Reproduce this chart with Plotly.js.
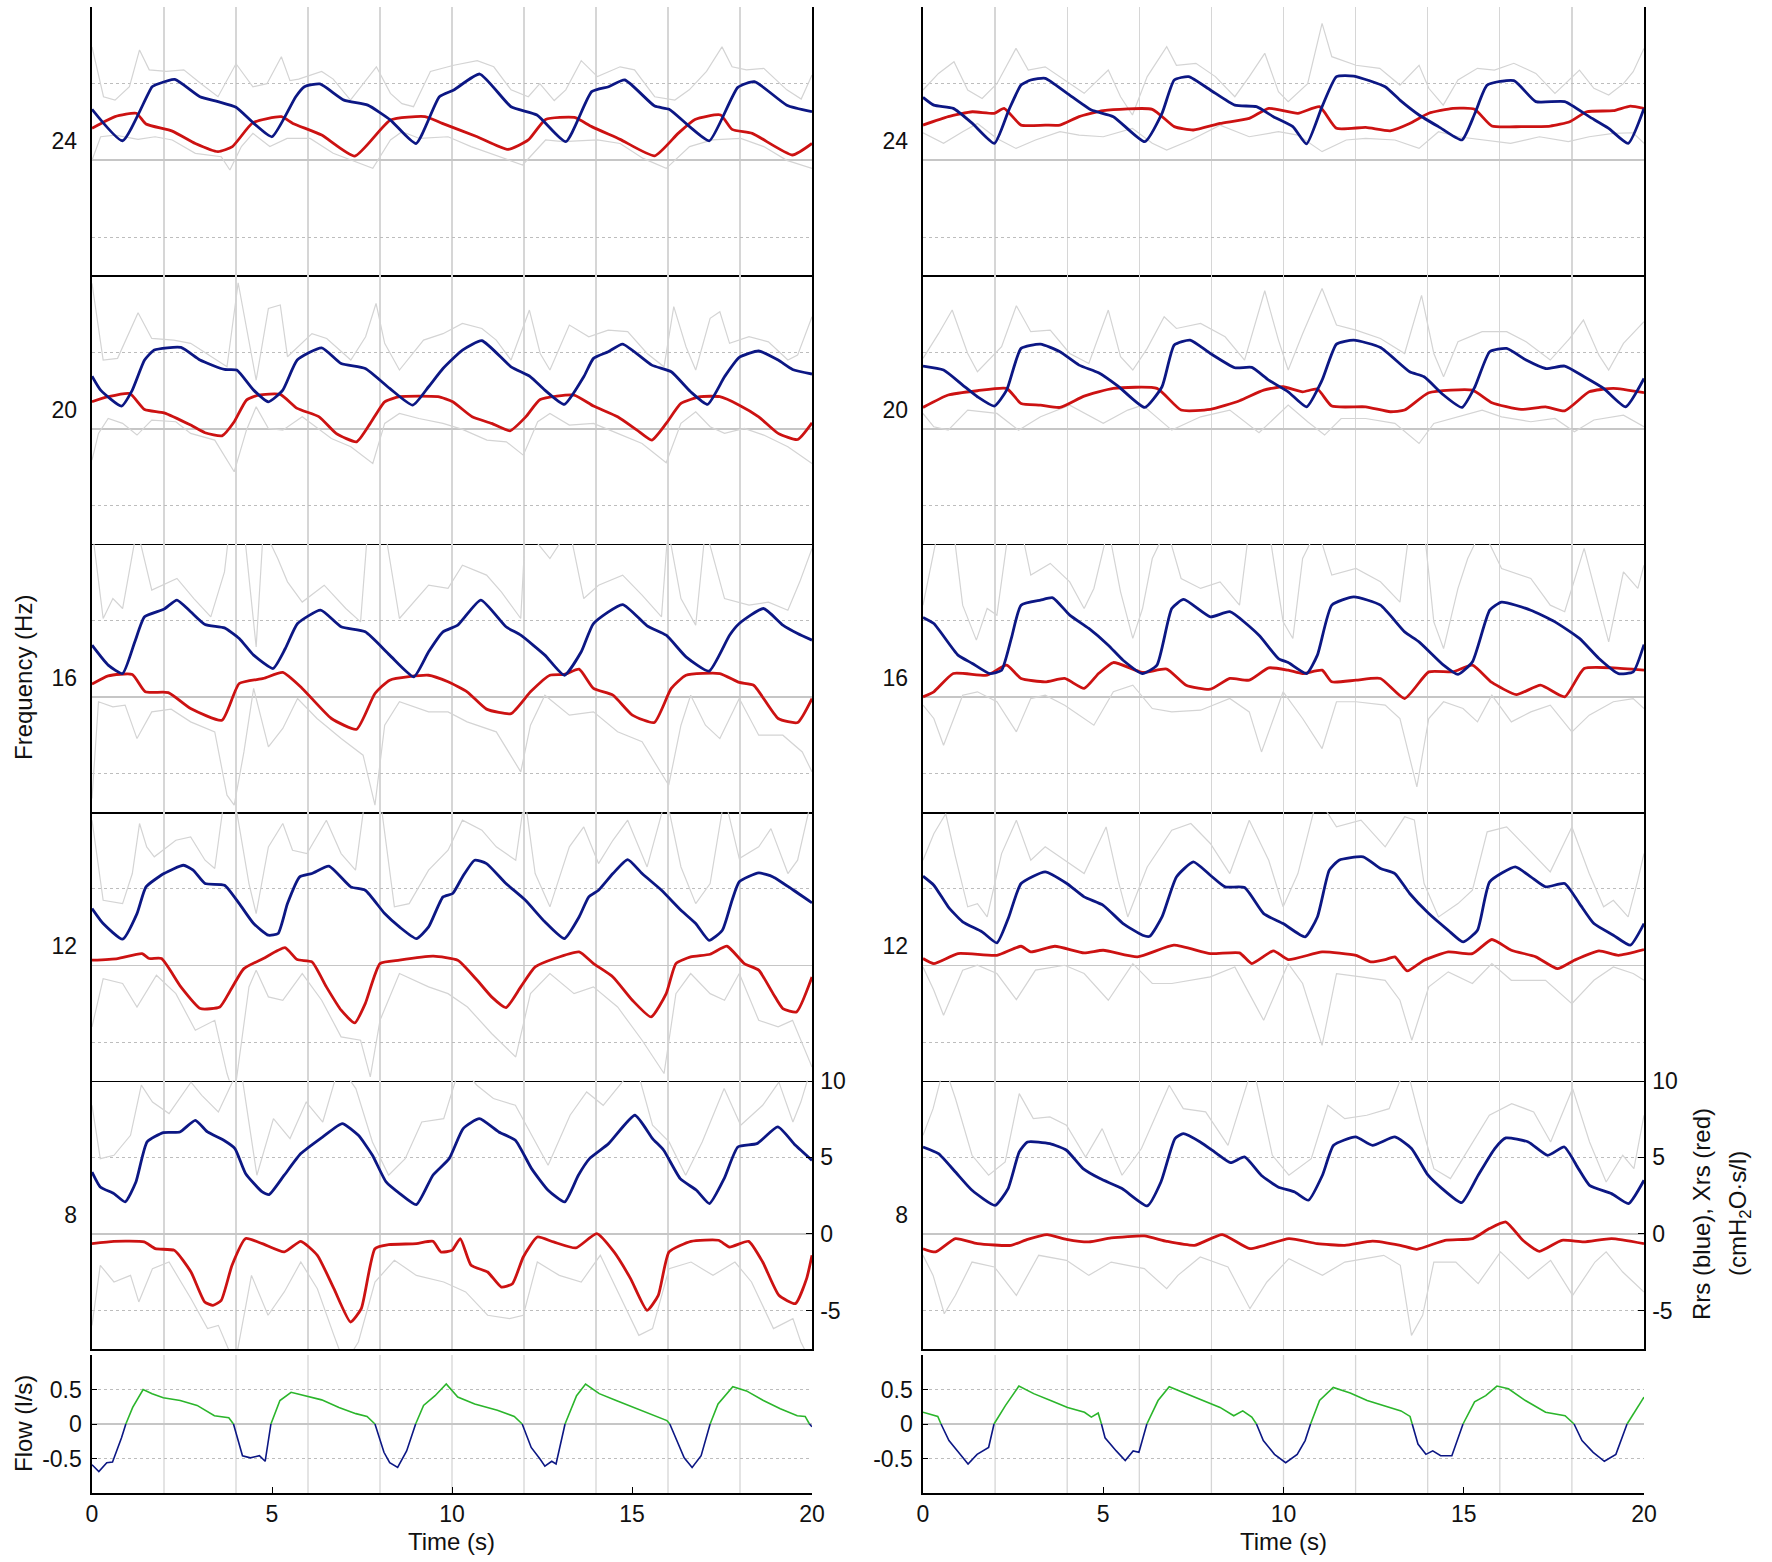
<!DOCTYPE html>
<html>
<head>
<meta charset="utf-8">
<script src="https://cdn.plot.ly/plotly-3.0.1.min.js"></script>
<style>html,body{margin:0;padding:0;background:#fff;}#chart{width:1772px;height:1562px;}</style>
</head>
<body>
<div id="chart"></div>
<script>
// ---------------- DATA ([time s, value]) ----------------
const freqTicks = [8, 12, 16, 20, 24];
const freqTickText = ['8', '12', '16', '20', '24'];
const timeTicks = [0, 5, 10, 15, 20];
const timeTickText = ['0', '5', '10', '15', '20'];
const gridTimes = [2, 4, 6, 8, 10, 12, 14, 16, 18];
const valueTicks = [-5, 0, 5, 10];
const valueTickText = ['-5', '0', '5', '10'];
const dotLevels = [-5, 5];
const flowTicks = [-0.5, 0, 0.5];
const flowTickText = ['-0.5', '0', '0.5'];

// Left column, 24 Hz
const L24_Rrs = [[0,3.33],[0.85,1.28],[1.67,4.8],[1.83,4.98],[2.3,5.28],[3.0,4.15],[3.5,3.83],[4.0,3.46],[4.5,2.4],[5.0,1.54],[5.66,4.15],[5.9,4.8],[6.33,4.98],[7.0,3.93],[7.66,3.6],[8.29,2.63],[9.0,1.1],[9.65,4.15],[10.05,4.59],[10.77,5.63],[11.64,3.5],[12.36,2.96],[13.16,1.22],[13.88,4.48],[14.35,4.8],[14.8,5.24],[15.63,3.54],[16.03,3.33],[16.6,2.2],[17.15,1.28],[17.94,4.76],[18.4,5.13],[19.3,3.6],[20,3.17]];
const L24_Xrs = [[0,2.09],[0.64,2.85],[1.23,3.07],[1.5,2.37],[2.23,1.91],[2.87,1.1],[3.5,0.57],[3.9,0.9],[4.47,2.46],[5.26,2.85],[5.58,2.41],[6.38,1.65],[7.3,0.28],[8.29,2.63],[9.25,2.85],[9.73,2.41],[10.7,1.54],[11.56,0.72],[12.12,1.33],[12.6,2.67],[13.4,2.8],[13.88,2.2],[14.67,1.37],[15.63,0.3],[16.28,1.76],[16.75,2.67],[17.46,2.96],[17.78,2.02],[18.34,1.76],[19.46,0.35],[20,1.1]];
const L24_Up = [[0,7.4],[0.32,4.15],[0.64,3.93],[1.04,4.8],[1.32,7.2],[1.59,5.9],[2.07,5.8],[2.55,5.9],[3.03,5.0],[3.5,4.15],[4.0,6.3],[4.47,4.8],[4.86,5.0],[5.26,6.76],[5.5,5.2],[5.74,5.3],[6.38,5.8],[6.7,5.3],[7.18,3.93],[7.9,6.1],[8.29,4.37],[8.61,3.7],[8.93,3.5],[9.4,5.8],[10.05,6.2],[10.7,6.5],[11.16,6.1],[11.64,4.6],[12.12,4.15],[12.44,5.0],[12.84,3.9],[13.16,4.6],[13.59,6.5],[14.04,5.46],[14.67,6.1],[15.07,5.9],[15.63,4.15],[16.19,3.93],[16.59,4.6],[17.07,5.8],[17.5,7.4],[17.78,6.1],[18.18,5.9],[18.66,6.0],[19.3,4.6],[19.7,4.0],[20,5.56]];
const L24_Lo = [[0,0.0],[0.24,1.54],[0.64,1.65],[1.28,1.37],[1.75,1.54],[2.23,1.33],[2.87,0.46],[3.59,0.24],[3.83,-0.63],[4.15,0.9],[4.47,1.76],[4.94,0.9],[5.42,1.43],[6.06,1.43],[6.7,0.46],[7.34,-0.1],[7.8,-0.52],[8.29,1.33],[8.61,1.87],[9.1,1.43],[9.89,1.54],[10.53,0.9],[11.32,0.24],[11.96,-0.3],[12.6,1.33],[13.08,1.22],[14.04,1.33],[14.67,1.1],[15.31,0.13],[15.95,-0.52],[16.6,0.9],[17.23,1.33],[18.02,1.43],[18.66,0.9],[19.3,0.0],[20,-0.52]];

// Right column, 24 Hz
const R24_Rrs = [[0,4.11],[0.3,3.6],[0.84,3.39],[1.37,2.41],[1.98,1.11],[2.38,3.28],[2.72,4.91],[2.99,5.24],[3.39,5.35],[4.0,4.37],[4.67,3.28],[5.28,2.85],[6.15,1.22],[6.63,3.07],[6.97,5.24],[7.37,5.46],[7.97,4.59],[8.65,3.6],[9.25,3.5],[9.72,2.85],[10.26,2.2],[10.64,1.07],[11.07,3.5],[11.47,5.46],[11.95,5.5],[12.82,4.8],[13.23,3.93],[13.76,2.96],[14.3,2.2],[14.95,1.33],[15.31,3.07],[15.65,4.91],[16.39,5.2],[17.0,3.83],[17.8,3.83],[18.48,2.85],[19.02,2.09],[19.56,1.11],[20,3.39]];
const R24_Xrs = [[0,2.3],[0.7,2.85],[1.37,3.17],[1.98,3.07],[2.25,3.39],[2.72,2.3],[3.39,2.3],[3.8,2.3],[4.33,2.85],[5.0,3.24],[6.36,3.33],[6.97,2.2],[7.5,1.98],[8.24,2.41],[9.05,2.74],[9.59,3.39],[10.4,3.07],[11.0,3.5],[11.47,2.09],[12.28,2.15],[12.96,1.93],[13.5,2.41],[14.03,3.07],[14.7,3.39],[15.3,3.33],[15.78,2.24],[16.59,2.2],[17.4,2.24],[17.94,2.52],[18.41,3.17],[19.15,3.24],[19.62,3.54],[20,3.39]];
const R24_Up = [[0,4.59],[0.43,5.67],[0.86,6.43],[1.24,4.59],[1.64,4.04],[2.05,5.0],[2.58,7.3],[2.92,5.89],[3.39,6.1],[3.93,5.24],[4.47,4.37],[5.14,5.89],[5.48,4.15],[5.81,2.96],[6.22,5.46],[6.76,7.41],[7.03,6.2],[7.57,6.33],[8.11,5.46],[8.65,4.15],[9.05,5.46],[9.48,6.98],[9.86,4.48],[10.13,3.83],[10.67,5.0],[11.07,8.93],[11.34,6.76],[12.01,6.2],[12.67,6.0],[13.23,4.91],[13.76,6.2],[14.03,4.7],[14.43,3.6],[14.84,5.24],[15.38,6.0],[15.85,5.89],[16.39,6.33],[17.0,5.67],[17.53,4.37],[18.21,5.89],[18.61,4.7],[19.02,4.26],[19.43,5.0],[19.7,5.78],[20,7.3]];
const R24_Lo = [[0,1.8],[0.57,1.11],[1.1,1.87],[1.51,2.41],[2.05,1.43],[2.58,0.78],[3.12,1.33],[3.8,1.87],[4.33,1.65],[5.0,1.54],[5.81,2.09],[6.36,1.11],[6.76,0.67],[7.43,1.33],[8.24,2.3],[9.05,1.54],[9.86,1.87],[10.4,1.65],[11.07,0.57],[11.74,1.33],[12.28,1.43],[13.09,1.33],[13.76,0.78],[14.3,1.87],[14.84,1.54],[15.5,1.33],[16.3,1.11],[17.1,1.54],[17.9,1.22],[18.48,1.54],[19.15,1.76],[19.7,1.8],[20,1.11]];

// Left column, 20 Hz
const L20_Rrs = [[0,3.43],[0.24,2.52],[0.82,1.48],[1.12,2.52],[1.46,4.48],[1.73,5.13],[2.47,5.3],[3.0,4.48],[3.68,3.87],[4.02,3.83],[4.49,2.52],[4.9,1.76],[5.3,2.52],[5.7,4.48],[6.38,5.28],[6.92,4.26],[7.59,3.93],[8.27,2.63],[8.91,1.54],[9.35,2.74],[9.75,3.93],[10.29,5.13],[10.83,5.74],[11.64,4.04],[12.18,3.39],[12.58,2.52],[13.12,1.59],[13.66,3.39],[13.93,4.59],[14.34,5.02],[14.74,5.52],[15.55,4.15],[16.09,3.72],[16.63,2.41],[17.1,1.59],[17.57,3.39],[17.98,4.65],[18.52,5.07],[19.06,4.48],[19.46,3.87],[20,3.57]];
const L20_Xrs = [[0,1.76],[0.45,2.09],[1.05,2.3],[1.46,1.26],[2.0,1.04],[2.74,0.24],[3.14,-0.26],[3.61,-0.46],[3.95,0.46],[4.29,1.87],[4.63,2.2],[5.23,2.24],[5.7,1.33],[6.31,0.78],[6.78,-0.3],[7.35,-0.85],[7.73,0.35],[8.13,1.76],[8.54,2.09],[9.61,2.09],[10.02,1.76],[10.56,0.78],[11.1,0.35],[11.61,-0.13],[12.05,0.78],[12.45,1.91],[13.39,2.2],[13.93,1.48],[14.6,0.78],[15.14,-0.09],[15.55,-0.74],[15.95,0.35],[16.36,1.65],[16.9,2.09],[17.44,2.09],[17.98,1.54],[18.52,0.78],[19.06,-0.3],[19.6,-0.7],[20,0.39]];
const L20_Up = [[0,9.48],[0.31,4.48],[0.71,4.59],[0.98,6.0],[1.28,7.57],[1.66,5.89],[2.27,5.78],[2.74,5.57],[3.41,4.59],[3.75,4.04],[4.06,9.52],[4.36,5.57],[4.56,3.17],[4.9,7.85],[5.23,8.07],[5.43,4.7],[6.11,6.2],[6.52,5.89],[7.19,4.48],[7.6,6.0],[7.89,8.17],[8.13,5.57],[8.54,3.83],[9.21,5.78],[9.75,6.2],[10.29,6.87],[10.83,6.54],[11.23,5.78],[11.64,4.48],[12.15,7.74],[12.45,4.91],[12.72,3.83],[13.26,6.76],[13.8,6.0],[14.34,6.43],[14.88,6.33],[15.42,4.91],[15.89,4.04],[16.16,7.96],[16.5,5.35],[16.77,3.83],[17.17,7.2],[17.44,7.63],[17.71,5.57],[18.25,6.0],[18.79,5.67],[19.33,4.48],[19.6,4.8],[20,7.3]];
const L20_Lo = [[0,-2.04],[0.18,-0.3],[0.45,0.67],[0.85,0.35],[1.25,-0.41],[1.66,0.57],[2.33,0.46],[2.74,-0.3],[3.41,-0.74],[3.95,-2.8],[4.29,-0.09],[4.56,1.43],[4.9,0.02],[5.3,-0.09],[5.84,0.78],[6.65,-0.63],[7.19,-1.17],[7.8,-2.26],[8.13,0.35],[8.54,1.0],[9.08,0.67],[9.75,0.35],[10.29,-0.04],[10.97,-0.74],[11.51,-0.85],[11.98,-1.72],[12.38,0.46],[12.72,1.0],[13.26,0.24],[13.93,0.35],[14.6,-0.3],[15.28,-0.96],[15.95,-2.22],[16.36,0.35],[16.77,1.11],[17.17,0.13],[17.57,-0.3],[18.12,0.02],[18.66,-0.41],[19.33,-1.17],[20,-2.26]];

// Right column, 20 Hz
const R20_Rrs = [[0,4.09],[0.57,3.83],[1.1,2.85],[1.51,2.09],[1.98,1.48],[2.32,2.52],[2.72,5.24],[3.26,5.52],[3.8,5.02],[4.33,4.15],[4.87,3.65],[5.41,2.78],[6.15,1.39],[6.63,2.74],[6.97,5.46],[7.41,5.78],[7.97,4.91],[8.65,3.98],[9.12,4.0],[9.59,3.17],[10.13,2.41],[10.64,1.43],[11.07,3.17],[11.47,5.52],[11.95,5.78],[12.69,5.3],[13.5,3.72],[13.9,3.39],[14.44,2.2],[14.95,1.39],[15.31,2.74],[15.72,5.02],[16.19,5.24],[16.73,4.48],[17.27,3.93],[17.8,4.09],[18.34,3.39],[18.88,2.63],[19.49,1.43],[20,3.28]];
const R20_Xrs = [[0,1.39],[0.7,2.2],[1.51,2.48],[2.32,2.63],[2.72,1.65],[3.26,1.54],[3.8,1.39],[4.47,2.13],[5.28,2.63],[6.49,2.63],[7.16,1.22],[7.97,1.26],[8.78,1.83],[9.45,2.52],[9.99,2.74],[10.53,2.41],[10.94,2.59],[11.34,1.48],[12.28,1.43],[12.96,1.11],[13.36,1.22],[14.03,2.35],[15.24,2.52],[15.78,1.7],[16.59,1.26],[17.27,1.43],[17.8,1.17],[18.48,2.41],[19.15,2.63],[20,2.35]];
const R20_Up = [[0,4.59],[0.43,6.2],[0.81,7.74],[1.24,4.91],[1.51,3.72],[1.91,4.7],[2.18,5.35],[2.59,8.02],[2.99,6.33],[3.53,6.43],[4.07,4.91],[4.6,4.26],[5.14,7.74],[5.48,4.7],[5.82,3.83],[6.22,5.24],[6.69,7.3],[7.03,6.54],[7.7,6.87],[8.38,6.0],[8.92,4.48],[9.48,9.0],[9.86,5.78],[10.13,3.83],[10.53,6.2],[11.07,9.15],[11.47,6.76],[12.01,6.43],[12.69,5.89],[13.36,4.91],[13.83,8.7],[14.17,4.91],[14.44,3.39],[14.84,5.67],[15.51,6.33],[16.19,6.33],[16.73,5.67],[17.4,4.48],[17.94,5.89],[18.32,7.09],[18.75,4.8],[19.02,3.83],[19.43,5.57],[20,6.98]];
const R20_Lo = [[0,1.0],[0.3,0.13],[0.7,-0.09],[1.24,1.22],[2.05,1.0],[2.65,-0.09],[3.26,0.78],[4.07,1.54],[5.0,0.35],[5.68,1.22],[6.09,1.54],[6.9,-0.09],[7.7,0.78],[8.51,1.22],[9.32,-0.26],[10.13,1.54],[10.67,0.46],[11.14,-0.41],[11.6,0.67],[12.28,0.67],[13.09,0.35],[13.76,-0.96],[14.17,0.35],[14.84,0.78],[15.51,1.22],[16.05,0.78],[16.86,0.46],[17.53,0.67],[18.07,-0.2],[18.61,0.57],[19.43,0.89],[20,0.13]];

// Left column, 16 Hz
const L16_Rrs = [[0,3.39],[0.45,2.09],[0.85,1.54],[1.19,3.61],[1.46,5.24],[2.0,5.74],[2.36,6.33],[2.74,5.57],[3.14,4.74],[3.68,4.52],[4.09,3.83],[4.49,2.74],[5.03,1.87],[5.37,3.17],[5.71,4.8],[6.35,5.67],[6.92,4.59],[7.59,4.26],[8.27,2.74],[8.94,1.33],[9.35,2.96],[9.75,4.26],[10.16,4.7],[10.8,6.33],[11.5,4.59],[11.91,4.04],[12.58,2.74],[13.12,1.43],[13.59,2.96],[13.93,4.8],[14.74,6.04],[15.42,4.65],[15.95,4.04],[16.5,2.63],[17.14,1.7],[17.71,4.04],[17.98,4.8],[18.65,5.78],[19.19,4.7],[19.6,4.15],[20,3.72]];
const L16_Xrs = [[0,0.85],[0.45,1.39],[1.12,1.48],[1.48,0.35],[2.12,0.3],[2.74,-0.74],[3.61,-1.5],[4.09,0.89],[4.76,1.22],[5.3,1.61],[5.84,0.57],[6.65,-1.39],[7.35,-2.09],[7.86,0.24],[8.27,1.11],[9.35,1.43],[9.89,1.0],[10.42,0.35],[10.96,-0.78],[11.64,-1.07],[12.18,0.35],[12.72,1.43],[13.12,1.48],[13.53,1.83],[13.93,0.57],[14.47,0.13],[15.01,-1.17],[15.62,-1.65],[16.09,0.57],[16.5,1.43],[17.44,1.54],[17.98,0.96],[18.38,0.78],[19.06,-1.39],[19.6,-1.65],[20,-0.09]];
const L16_Up = [[0,11],[0.31,5.13],[0.58,6.43],[0.85,5.78],[1.25,11],[1.46,9.0],[1.66,6.98],[2.36,7.74],[2.83,6.43],[3.3,5.24],[3.68,8.17],[3.82,11],[4.22,11],[4.56,3.28],[4.76,11],[5.16,9.04],[5.43,7.52],[5.84,6.2],[6.45,7.3],[7.05,5.78],[7.46,4.91],[7.66,11],[8.13,11],[8.54,5.13],[9.35,7.3],[9.89,7.09],[10.29,8.6],[10.96,7.96],[11.37,6.87],[11.91,5.13],[12.04,11],[12.72,9.04],[13.26,11],[13.66,6.43],[14.07,7.3],[14.74,7.96],[15.28,6.65],[15.82,5.24],[16.0,11],[16.36,6.43],[16.77,4.7],[17.04,11],[17.57,6.43],[18.25,6.0],[18.79,6.2],[19.33,5.67],[19.66,7.52],[20,9.7]];
const L16_Lo = [[0,-6.6],[0.18,-0.3],[0.58,-0.63],[0.92,-0.52],[1.25,-2.7],[1.66,-0.96],[2.2,-0.78],[2.74,-1.61],[3.41,-2.26],[3.75,-6.39],[3.95,-7.04],[4.22,-3.57],[4.49,0.57],[4.9,-3.24],[5.3,-2.04],[5.71,-0.09],[6.25,-1.39],[6.92,-2.7],[7.53,-3.78],[7.86,-7.04],[8.13,-1.83],[8.54,-0.3],[9.35,-0.96],[9.89,-0.96],[10.42,-1.61],[11.23,-2.26],[11.91,-4.87],[12.18,-1.83],[12.58,0.13],[13.26,-1.17],[13.93,-0.96],[14.6,-2.26],[15.28,-2.91],[16.02,-5.74],[16.36,-1.83],[16.63,0.13],[17.04,-1.83],[17.44,-2.7],[17.98,-0.09],[18.52,-2.48],[19.19,-2.48],[19.73,-3.57],[20,-4.87]];

// Right column, 16 Hz
const R16_Rrs = [[0,5.2],[0.3,4.8],[0.97,2.74],[1.37,2.2],[1.85,1.54],[2.18,1.76],[2.45,3.83],[2.72,6.0],[3.26,6.33],[3.6,6.48],[4.07,5.35],[4.6,4.48],[5.14,3.39],[5.55,2.41],[6.09,1.54],[6.49,2.09],[6.9,5.78],[7.23,6.37],[7.97,5.24],[8.51,5.57],[9.32,4.04],[9.86,2.52],[10.13,2.26],[10.64,1.54],[10.94,2.74],[11.34,6.0],[11.95,6.54],[12.69,6.0],[13.36,4.26],[13.76,3.61],[14.44,2.09],[14.84,1.48],[15.24,2.3],[15.72,5.67],[16.05,6.2],[16.86,5.67],[17.53,4.91],[18.21,3.83],[18.75,2.52],[19.29,1.54],[19.7,1.65],[20,3.43]];
const R16_Xrs = [[0,0.02],[0.3,0.35],[0.84,1.54],[1.78,1.43],[2.32,2.09],[2.72,1.22],[3.39,1.0],[3.93,1.22],[4.47,0.57],[4.87,1.54],[5.28,2.26],[6.09,1.61],[6.76,1.83],[7.3,0.78],[7.97,0.52],[8.51,1.22],[9.05,1.11],[9.59,1.91],[10.13,1.76],[10.53,1.54],[11.07,1.76],[11.34,1.0],[12.01,1.11],[12.69,1.22],[13.36,-0.09],[14.03,1.65],[14.7,1.65],[15.24,2.09],[15.78,0.96],[16.46,0.17],[17.13,0.78],[17.8,0.02],[18.34,1.87],[19.15,1.91],[20,1.76]];
const R16_Up = [[0,6.0],[0.43,11],[0.84,11],[1.1,6.0],[1.48,3.72],[1.78,5.78],[2.05,5.35],[2.38,11],[2.72,11],[2.99,7.96],[3.53,8.72],[4.07,7.52],[4.47,5.78],[4.74,7.09],[5.14,11],[5.48,6.87],[5.82,3.83],[6.09,5.78],[6.36,9.04],[6.76,11],[7.16,7.74],[7.7,7.09],[8.24,7.52],[8.78,6.0],[9.05,11],[9.59,11],[9.99,4.91],[10.26,3.83],[10.53,9.04],[10.94,11],[11.34,7.96],[12.01,8.39],[12.69,7.52],[13.23,6.2],[13.5,11],[13.9,11],[14.17,4.91],[14.44,3.17],[14.84,7.09],[15.11,9.04],[15.51,11],[16.05,8.39],[16.86,7.74],[17.4,6.0],[17.8,5.57],[18.34,9.7],[18.75,6.0],[19.02,3.61],[19.43,8.17],[19.83,7.09],[20,8.6]];
const R16_Lo = [[0,-0.52],[0.3,-1.39],[0.57,-3.13],[1.1,0.13],[1.51,0.35],[2.05,-0.3],[2.59,-2.26],[2.99,-0.09],[3.39,0.13],[3.93,-0.52],[4.74,-1.83],[5.28,0.35],[5.82,0.78],[6.36,-0.74],[6.9,-0.96],[7.7,-0.85],[8.51,-0.09],[9.05,-0.96],[9.39,-3.57],[9.99,0.35],[10.53,-1.39],[11.07,-3.35],[11.47,-0.3],[12.01,-0.3],[12.82,-0.52],[13.23,-1.39],[13.7,-5.85],[14.03,-1.39],[14.44,-0.3],[14.98,-0.74],[15.38,-1.61],[15.78,0.13],[16.32,-1.61],[16.86,-0.96],[17.4,-0.52],[18.0,-2.26],[18.48,-1.17],[19.15,-0.3],[19.7,-0.09],[20,-0.74]];

// Left column, 12 Hz
const L12_Rrs = [[0,3.72],[0.31,2.74],[0.85,1.72],[1.25,3.39],[1.5,5.13],[2.0,6.0],[2.54,6.54],[2.81,6.22],[3.14,5.35],[3.68,5.24],[4.09,4.04],[4.49,2.74],[4.9,1.98],[5.17,2.09],[5.43,4.04],[5.77,5.78],[6.11,6.0],[6.58,6.48],[7.19,5.13],[7.59,4.91],[8.13,3.39],[8.54,2.52],[9.01,1.76],[9.35,2.52],[9.75,4.48],[10.02,4.7],[10.29,5.78],[10.63,6.87],[10.96,6.65],[11.5,5.35],[12.04,4.26],[12.58,2.85],[13.12,1.76],[13.53,3.17],[13.8,4.48],[14.07,4.91],[14.47,6.0],[14.88,6.91],[15.28,6.0],[15.82,4.91],[16.36,3.61],[16.77,2.74],[17.14,1.65],[17.51,2.3],[17.78,4.26],[17.98,5.46],[18.52,6.04],[18.92,5.78],[19.46,4.96],[20,4.09]];
const L12_Xrs = [[0,0.35],[0.71,0.46],[1.39,0.78],[1.59,0.46],[1.93,0.46],[2.47,-1.39],[3.01,-2.8],[3.55,-2.7],[3.82,-1.72],[4.22,-0.2],[4.76,0.46],[5.36,1.17],[5.7,0.39],[6.11,0.24],[6.51,-1.39],[6.92,-2.91],[7.3,-3.74],[7.59,-2.48],[8.0,0.13],[8.54,0.35],[9.48,0.61],[10.16,0.35],[10.7,-0.96],[11.1,-2.04],[11.5,-2.74],[11.91,-1.39],[12.31,-0.09],[12.85,0.46],[13.53,0.89],[13.93,0.13],[14.47,-0.74],[15.01,-2.26],[15.53,-3.35],[15.95,-1.83],[16.22,0.13],[16.63,0.57],[17.17,0.74],[17.64,1.26],[18.12,0.13],[18.52,-0.3],[18.92,-1.83],[19.19,-2.8],[19.57,-3.02],[20,-0.74]];
const L12_Up = [[0,9.48],[0.31,4.26],[0.85,4.04],[1.12,6.0],[1.32,9.26],[1.52,7.74],[1.73,7.09],[2.33,8.17],[2.74,8.39],[3.14,6.87],[3.41,6.33],[3.68,11],[3.95,11],[4.36,5.35],[4.56,3.39],[4.9,7.74],[5.3,9.26],[5.57,7.52],[5.97,7.3],[6.51,9.48],[6.92,7.3],[7.32,6.22],[7.59,11],[8.0,11],[8.4,3.83],[8.81,4.04],[9.35,6.22],[9.89,7.52],[10.29,9.48],[10.83,8.83],[11.23,7.74],[11.77,6.87],[12.02,11],[12.31,6.0],[12.72,3.83],[13.26,7.74],[13.66,9.04],[14.07,6.65],[14.47,8.17],[14.88,9.48],[15.42,6.43],[15.95,11],[16.36,6.43],[16.77,4.04],[17.17,5.35],[17.57,11],[17.98,6.98],[18.52,7.74],[18.86,8.93],[19.33,6.0],[19.6,6.87],[20,11]];
const L12_Lo = [[0,-4.0],[0.31,-0.85],[0.85,-1.17],[1.25,-2.7],[1.79,-0.63],[2.33,-1.83],[2.87,-4.22],[3.41,-3.57],[3.75,-7.04],[3.95,-8.5],[4.36,-1.39],[4.56,-0.3],[4.9,-2.04],[5.3,-2.26],[5.84,-0.52],[6.38,-2.26],[6.92,-4.65],[7.46,-4.87],[7.73,-7.26],[8.0,-3.57],[8.54,-0.52],[9.35,-1.39],[9.89,-1.83],[10.43,-2.7],[11.1,-4.43],[11.77,-5.96],[12.18,-1.83],[12.72,-0.52],[13.39,-1.83],[13.93,-1.39],[14.6,-2.7],[15.28,-4.87],[15.89,-7.04],[16.22,-1.83],[16.63,-0.52],[17.17,-1.83],[17.57,-2.26],[17.98,-0.52],[18.52,-3.57],[19.06,-4.0],[19.46,-3.57],[20,-6.61]];

// Right column, 12 Hz
const R12_Rrs = [[0,5.83],[0.3,5.24],[0.7,3.83],[1.1,2.85],[1.64,2.2],[2.05,1.48],[2.38,3.17],[2.72,5.35],[3.39,6.11],[3.99,5.35],[4.47,4.48],[5.0,3.93],[5.55,2.74],[6.09,1.98],[6.29,1.91],[6.63,3.17],[7.03,5.78],[7.5,6.76],[7.97,5.89],[8.38,5.13],[8.92,5.09],[9.45,3.39],[9.99,2.74],[10.6,1.87],[10.94,3.17],[11.27,6.22],[11.54,6.87],[12.21,7.09],[12.69,6.33],[13.09,6.0],[13.5,4.7],[14.03,3.39],[14.57,2.3],[14.98,1.54],[15.38,2.3],[15.72,5.46],[16.43,6.43],[16.86,5.78],[17.27,5.13],[17.8,5.35],[18.21,4.04],[18.61,2.74],[19.15,1.98],[19.62,1.33],[20,2.74]];
const R12_Xrs = [[0,0.46],[0.3,0.13],[0.97,0.78],[2.05,0.67],[2.72,1.26],[2.99,0.89],[3.66,1.26],[4.47,0.83],[5.0,1.0],[5.95,0.57],[6.96,1.33],[7.97,0.78],[8.78,0.83],[9.12,0.13],[9.72,0.96],[10.13,0.39],[11.07,0.89],[12.01,0.67],[12.42,0.24],[12.82,0.39],[13.09,0.57],[13.43,-0.35],[13.9,0.35],[14.57,0.89],[15.24,0.78],[15.78,1.7],[16.32,1.0],[17.0,0.57],[17.6,-0.2],[18.07,0.35],[18.75,0.96],[19.29,0.67],[20,1.04]];
const R12_Up = [[0,6.87],[0.3,8.6],[0.63,9.9],[0.9,7.09],[1.24,3.83],[1.51,4.04],[1.78,3.17],[2.18,7.3],[2.59,9.48],[2.99,6.87],[3.39,7.74],[3.93,6.87],[4.47,6.0],[5.08,9.04],[5.41,5.57],[5.68,3.17],[6.22,6.43],[6.9,8.83],[7.43,9.26],[7.97,7.96],[8.51,6.0],[9.05,9.48],[9.59,6.87],[9.99,3.83],[10.4,6.0],[10.94,11],[11.47,9.04],[12.15,9.48],[12.82,7.74],[13.36,9.7],[13.63,9.5],[13.9,5.35],[14.3,3.17],[14.84,4.04],[15.24,4.91],[15.65,8.72],[16.19,9.04],[16.73,7.74],[17.4,6.11],[18.0,9.04],[18.48,6.0],[18.88,3.83],[19.15,4.26],[19.56,3.17],[19.83,5.57],[20,7.3]];
const R12_Lo = [[0,-0.09],[0.3,-1.61],[0.57,-3.24],[1.1,-0.3],[1.51,0.02],[2.05,-0.52],[2.59,-2.22],[3.12,-0.3],[3.93,0.02],[4.47,-0.52],[5.14,-2.26],[5.82,0.13],[6.36,-1.17],[6.9,-1.17],[7.97,-0.74],[8.65,-0.09],[9.05,-1.83],[9.45,-3.57],[10.13,0.13],[10.53,-1.17],[11.07,-5.2],[11.47,-0.52],[12.15,-0.74],[12.82,-0.96],[13.23,-2.26],[13.56,-4.87],[14.03,-1.39],[14.57,-0.41],[15.24,-1.17],[15.78,0.13],[16.32,-0.96],[17.27,-0.96],[18.0,-2.48],[18.61,-0.96],[19.15,-0.09],[19.7,-0.52],[20,-0.96]];

// Left column, 8 Hz
const L8_Rrs = [[0,4.04],[0.23,3.07],[0.61,2.63],[0.92,2.09],[1.22,3.39],[1.53,6.0],[1.98,6.61],[2.44,6.65],[2.87,7.41],[3.21,6.65],[3.66,6.11],[3.97,5.57],[4.27,3.93],[4.73,2.74],[4.92,2.57],[5.34,3.83],[5.8,5.24],[6.41,6.33],[6.95,7.2],[7.4,6.43],[7.79,5.13],[8.17,3.39],[8.55,2.63],[9.01,1.91],[9.47,3.83],[9.92,4.91],[10.31,6.87],[10.76,7.52],[11.3,6.65],[11.76,6.11],[12.21,4.26],[12.67,2.85],[13.13,2.09],[13.51,3.83],[13.82,4.91],[14.35,5.89],[15.08,7.74],[15.57,6.22],[15.88,5.46],[16.34,3.61],[16.79,2.85],[17.15,1.98],[17.56,3.61],[17.94,5.67],[18.47,5.89],[19.05,6.98],[19.54,5.78],[20,4.8]];
const L8_Xrs = [[0,-0.63],[0.61,-0.48],[1.45,-0.52],[1.76,-0.96],[2.29,-1.07],[2.75,-2.48],[3.13,-4.43],[3.36,-4.65],[3.59,-4.33],[3.89,-2.04],[4.27,-0.3],[4.73,-0.63],[5.34,-1.17],[5.8,-0.48],[6.26,-1.39],[6.72,-3.57],[7.18,-5.74],[7.48,-4.87],[7.86,-0.96],[8.24,-0.7],[9.01,-0.63],[9.47,-0.48],[9.69,-1.17],[10.0,-1.07],[10.23,-0.3],[10.53,-2.04],[10.99,-2.48],[11.37,-3.46],[11.68,-3.24],[11.98,-1.5],[12.37,-0.2],[12.82,-0.52],[13.44,-0.91],[14.02,0.02],[14.5,-1.17],[14.96,-2.91],[15.42,-4.98],[15.73,-4.0],[16.03,-1.17],[16.64,-0.48],[17.4,-0.41],[17.71,-0.85],[18.24,-0.48],[18.63,-1.83],[19.08,-4.0],[19.54,-4.54],[19.85,-2.91],[20,-1.39]];
const L8_Up = [[0,8.39],[0.23,4.91],[0.61,5.13],[1.07,6.43],[1.37,9.7],[1.68,8.6],[2.14,7.85],[2.75,9.9],[3.05,9.04],[3.51,7.96],[4.12,11],[4.58,3.83],[5.04,7.52],[5.5,6.22],[5.95,8.6],[6.41,7.3],[6.87,11],[7.33,9.48],[7.79,6.0],[8.24,3.83],[8.7,4.91],[9.16,7.3],[9.77,7.52],[10.23,11],[10.69,9.7],[11.15,8.83],[11.76,8.39],[12.21,6.43],[12.67,4.48],[13.28,7.74],[13.74,9.26],[14.2,8.39],[14.66,9.7],[15.11,11],[15.57,7.09],[16.03,6.0],[16.49,3.83],[16.95,6.0],[17.56,9.48],[18.02,7.09],[18.63,8.39],[19.08,9.9],[19.47,7.3],[19.69,8.6],[20,11]];
const L8_Lo = [[0,-5.96],[0.23,-2.04],[0.61,-3.13],[1.07,-2.7],[1.3,-4.43],[1.68,-2.26],[2.14,-1.83],[2.75,-4.22],[3.21,-6.17],[3.51,-5.96],[3.97,-8.5],[4.43,-2.7],[4.89,-5.3],[5.34,-3.78],[5.8,-1.83],[6.26,-3.57],[6.72,-6.61],[7.02,-8.5],[7.4,-7.04],[7.86,-3.13],[8.4,-1.72],[9.01,-2.7],[9.77,-3.13],[10.38,-3.78],[10.99,-5.3],[11.6,-5.52],[11.98,-5.3],[12.37,-1.83],[12.98,-2.7],[13.59,-3.13],[14.12,-1.39],[14.66,-4.0],[15.19,-6.61],[15.57,-6.17],[16.03,-2.26],[16.64,-1.83],[17.25,-2.7],[17.86,-1.83],[18.32,-3.13],[18.93,-6.17],[19.47,-5.52],[19.69,-7.04],[20,-8.5]];

// Right column, 8 Hz
const R8_Rrs = [[0,5.67],[0.43,5.24],[0.9,4.04],[1.36,2.85],[2.0,1.87],[2.36,2.96],[2.67,5.35],[2.9,6.0],[3.52,5.89],[3.98,5.46],[4.44,4.26],[4.91,3.61],[5.52,2.96],[6.22,1.83],[6.6,3.39],[6.99,6.22],[7.22,6.54],[7.69,6.0],[8.15,5.24],[8.53,4.65],[8.92,5.02],[9.38,3.83],[9.85,3.07],[10.31,2.74],[10.69,2.2],[11.08,3.83],[11.39,5.78],[12.0,6.33],[12.47,5.78],[13.09,6.33],[13.55,5.57],[14.01,3.83],[14.4,2.96],[14.94,2.04],[15.4,3.83],[15.86,5.57],[16.17,6.26],[16.79,6.0],[17.33,5.13],[17.79,5.67],[18.18,4.26],[18.49,3.17],[19.1,2.63],[19.57,1.98],[20,3.5]];
const R8_Xrs = [[0,-0.96],[0.35,-1.17],[0.9,-0.3],[1.51,-0.63],[2.44,-0.74],[2.9,-0.35],[3.44,-0.04],[3.98,-0.35],[4.6,-0.52],[5.22,-0.26],[6.14,-0.13],[6.76,-0.48],[7.53,-0.74],[8.3,-0.04],[9.07,-0.96],[10.15,-0.3],[10.93,-0.63],[11.7,-0.74],[12.47,-0.46],[13.24,-0.74],[13.7,-1.0],[14.48,-0.41],[15.25,-0.3],[15.71,0.35],[16.17,0.78],[16.64,-0.41],[17.1,-1.13],[17.72,-0.41],[18.33,-0.52],[19.1,-0.3],[20,-0.63]];
const R8_Up = [[0,6.43],[0.28,8.17],[0.59,11],[0.9,8.83],[1.36,5.13],[1.82,3.83],[2.28,4.7],[2.67,9.15],[3.06,7.52],[3.52,7.63],[3.98,7.09],[4.51,5.02],[4.97,6.87],[5.52,3.83],[6.06,5.57],[6.83,9.7],[7.22,8.17],[7.84,7.96],[8.46,5.78],[9.15,11],[9.69,5.13],[10.15,3.83],[10.77,4.91],[11.23,8.39],[11.7,7.52],[12.31,7.74],[12.93,8.17],[13.4,11],[13.78,7.52],[14.17,4.26],[14.63,3.61],[15.25,6.0],[15.71,7.74],[16.33,8.5],[16.94,7.96],[17.41,6.0],[18.02,9.48],[18.49,6.0],[18.95,3.39],[19.41,5.13],[19.72,4.26],[20,7.74]];
const R8_Lo = [[0,-1.39],[0.28,-2.7],[0.59,-5.2],[0.9,-4.0],[1.36,-1.83],[1.98,-2.15],[2.59,-4.0],[3.21,-1.39],[3.98,-1.72],[4.6,-2.7],[5.22,-1.83],[6.14,-2.26],[6.76,-3.57],[7.07,-2.7],[7.69,-1.5],[8.46,-2.15],[9.07,-4.87],[9.54,-3.13],[10.15,-1.61],[11.08,-2.7],[11.7,-1.83],[12.78,-1.39],[13.24,-2.04],[13.55,-6.61],[13.86,-5.3],[14.17,-1.83],[14.78,-1.83],[15.4,-3.24],[16.02,-1.17],[16.79,-2.91],[17.41,-1.72],[18.02,-4.0],[18.64,-1.83],[18.95,-1.17],[19.41,-2.48],[20,-3.78]];

// Flow (l/s)
const L_Flow = [[0,-0.59],[0.19,-0.69],[0.41,-0.56],[0.57,-0.55],[0.82,-0.2],[0.94,0],[1.13,0.24],[1.42,0.5],[1.67,0.44],[1.98,0.38],[2.45,0.34],[2.92,0.27],[3.4,0.12],[3.8,0.09],[3.93,0],[4.18,-0.46],[4.4,-0.49],[4.65,-0.46],[4.81,-0.54],[4.97,0],[5.22,0.34],[5.53,0.46],[5.91,0.41],[6.38,0.35],[6.86,0.24],[7.33,0.15],[7.64,0.11],[7.86,0],[8.11,-0.41],[8.27,-0.56],[8.49,-0.63],[8.74,-0.39],[8.99,0],[9.21,0.27],[9.53,0.41],[9.84,0.58],[10.16,0.39],[10.63,0.29],[11.26,0.2],[11.73,0.11],[11.95,0],[12.2,-0.34],[12.45,-0.51],[12.58,-0.61],[12.77,-0.54],[12.89,-0.58],[13.14,0],[13.46,0.41],[13.71,0.58],[14.09,0.44],[14.56,0.34],[15.03,0.24],[15.5,0.15],[15.97,0.05],[16.05,0],[16.45,-0.49],[16.67,-0.63],[16.92,-0.46],[17.17,0],[17.39,0.29],[17.8,0.54],[18.18,0.48],[18.65,0.34],[19.12,0.22],[19.59,0.12],[19.81,0.11],[19.93,0],[20,-0.04]];
const R_Flow = [[0,0.17],[0.41,0.11],[0.5,0],[0.72,-0.24],[1.03,-0.44],[1.25,-0.58],[1.5,-0.44],[1.82,-0.34],[1.97,0],[2.29,0.27],[2.66,0.55],[3.07,0.44],[3.54,0.34],[4.01,0.24],[4.48,0.17],[4.67,0.1],[4.86,0.16],[4.95,0],[5.05,-0.2],[5.36,-0.39],[5.61,-0.53],[5.83,-0.39],[5.99,-0.41],[6.21,0],[6.52,0.34],[6.83,0.54],[7.3,0.44],[7.77,0.34],[8.24,0.24],[8.62,0.12],[8.87,0.19],[9.12,0.1],[9.25,0],[9.44,-0.24],[9.75,-0.44],[10.06,-0.56],[10.38,-0.44],[10.6,-0.24],[10.75,0],[11.0,0.34],[11.38,0.53],[11.85,0.45],[12.32,0.34],[12.79,0.27],[13.26,0.19],[13.51,0.11],[13.57,0],[13.73,-0.29],[13.95,-0.44],[14.14,-0.39],[14.36,-0.46],[14.67,-0.46],[14.98,0],[15.3,0.32],[15.61,0.41],[15.92,0.55],[16.24,0.51],[16.71,0.34],[17.27,0.17],[17.81,0.12],[18.06,0],[18.28,-0.24],[18.59,-0.41],[18.9,-0.54],[19.22,-0.44],[19.53,0],[20,0.39]];

// ---------------- LAYOUT GEOMETRY (pixels) ----------------
const W = 1772, H = 1562;
const COLS = [[92, 812], [923, 1644]];
const PANEL_TOP = 7, PANEL_H = 268.4;
const FLOW_BOX = [1355, 1493];
const FONT = 'Liberation Sans, Arial, Helvetica, sans-serif';
const C_BLUE = '#0c1784', C_RED = '#cc1212', C_GRAY = '#d4d4d4', C_GREEN = '#2bb52b';
const C_GRID = '#d6d6d6', C_ZERO = '#c6c6c6', C_DOT = '#bdbdbd';

const panels = [
  [[L24_Rrs, L24_Xrs, L24_Up, L24_Lo], [L20_Rrs, L20_Xrs, L20_Up, L20_Lo], [L16_Rrs, L16_Xrs, L16_Up, L16_Lo], [L12_Rrs, L12_Xrs, L12_Up, L12_Lo], [L8_Rrs, L8_Xrs, L8_Up, L8_Lo]],
  [[R24_Rrs, R24_Xrs, R24_Up, R24_Lo], [R20_Rrs, R20_Xrs, R20_Up, R20_Lo], [R16_Rrs, R16_Xrs, R16_Up, R16_Lo], [R12_Rrs, R12_Xrs, R12_Up, R12_Lo], [R8_Rrs, R8_Xrs, R8_Up, R8_Lo]]
];
const flows = [L_Flow, R_Flow];

const xd = px => px / W;
const yd = px => 1 - px / H;
const T = p => p.map(a => a[0]);
const V = p => p.map(a => a[1]);

const traces = [];
const layout = {
  width: W, height: H, autosize: false,
  margin: {l: 0, r: 0, t: 0, b: 0, pad: 0},
  paper_bgcolor: '#ffffff', plot_bgcolor: 'rgba(0,0,0,0)',
  showlegend: false,
  font: {family: FONT, size: 23, color: '#111'},
  shapes: [], annotations: []
};

for (let c = 0; c < 2; c++) {
  const xdom = [xd(COLS[c][0]), xd(COLS[c][1])];
  for (let k = 0; k < 5; k++) {
    const n = c * 6 + k + 1;
    const top = PANEL_TOP + k * PANEL_H, bot = top + PANEL_H;
    const [rrs, xrs, up, lo] = panels[c][k];
    const ax = {xaxis: 'x' + n, yaxis: 'y' + n, mode: 'lines', hoverinfo: 'skip', type: 'scatter'};
    traces.push(Object.assign({x: T(up), y: V(up), line: {color: C_GRAY, width: 1.2}}, ax));
    traces.push(Object.assign({x: T(lo), y: V(lo), line: {color: C_GRAY, width: 1.2}}, ax));
    traces.push(Object.assign({x: T(xrs), y: V(xrs), line: {color: C_RED, width: 2.8, shape: 'spline', smoothing: 0.5}}, ax));
    traces.push(Object.assign({x: T(rrs), y: V(rrs), line: {color: C_BLUE, width: 2.8, shape: 'spline', smoothing: 0.5}}, ax));
    const last = (k === 4);
    layout['xaxis' + n] = {
      domain: xdom, anchor: 'y' + n, range: [0, 20], fixedrange: true,
      showgrid: true, tick0: 0, dtick: 2, gridcolor: C_GRID, gridwidth: 1.3,
      showticklabels: false, ticks: '', zeroline: false,
      showline: true, linecolor: '#000', linewidth: 1.6
    };
    const yax = {
      domain: [yd(bot), yd(top)], anchor: 'x' + n, range: [-7.5, 10], fixedrange: true,
      tickmode: 'array',
      tickvals: last ? valueTicks : dotLevels,
      showticklabels: last, side: last ? 'right' : 'left',
      ticks: last ? 'inside' : '', ticklen: 6, tickcolor: '#000', tickwidth: 1,
      ticklabelstandoff: 2,
      showgrid: true, gridcolor: C_DOT, gridwidth: 1, griddash: 'dot',
      zeroline: true, zerolinecolor: C_ZERO, zerolinewidth: 1.8,
      showline: true, mirror: true, linecolor: '#000', linewidth: 1.6,
      tickfont: {family: FONT, size: 23, color: '#111'}
    };
    if (last) yax.ticktext = valueTickText;
    layout['yaxis' + n] = yax;
  }
  // flow panel
  const n = c * 6 + 6;
  const f = flows[c];
  const tf = T(f), vf = V(f);
  traces.push({type: 'scatter', mode: 'lines', hoverinfo: 'skip', xaxis: 'x' + n, yaxis: 'y' + n,
    x: tf, y: vf.map(v => v >= 0 ? v : null), line: {color: C_GREEN, width: 1.6}, connectgaps: false});
  traces.push({type: 'scatter', mode: 'lines', hoverinfo: 'skip', xaxis: 'x' + n, yaxis: 'y' + n,
    x: tf, y: vf.map(v => v <= 0 ? v : null), line: {color: C_BLUE, width: 1.6}, connectgaps: false});
  layout['xaxis' + n] = {
    domain: xdom, anchor: 'y' + n, range: [0, 20], fixedrange: true,
    tickmode: 'array', tickvals: timeTicks, ticktext: timeTickText,
    ticks: 'inside', ticklen: 6, tickcolor: '#000', ticklabelstandoff: 0,
    showgrid: false, zeroline: false,
    showline: true, linecolor: '#000', linewidth: 1.6,
    tickfont: {family: FONT, size: 23, color: '#111'}
  };
  layout['yaxis' + n] = {
    domain: [yd(FLOW_BOX[1]), yd(FLOW_BOX[0])], anchor: 'x' + n, range: [-1, 1], fixedrange: true,
    tickmode: 'array', tickvals: flowTicks, ticktext: flowTickText,
    ticks: 'inside', ticklen: 5, tickcolor: '#000', ticklabelstandoff: 4,
    showgrid: true, gridcolor: C_DOT, gridwidth: 1, griddash: 'dot',
    zeroline: true, zerolinecolor: C_ZERO, zerolinewidth: 1.8,
    showline: true, mirror: false, linecolor: '#000', linewidth: 1.6,
    tickfont: {family: FONT, size: 23, color: '#111'}
  };
  gridTimes.forEach(g => layout.shapes.push({
    type: 'line', xref: 'x' + n, yref: 'y' + n + ' domain', x0: g, x1: g, y0: 0, y1: 1,
    line: {color: C_GRID, width: 1.3}, layer: 'below'
  }));
  // frequency label axis spanning the panel stack
  const m = 13 + c;
  traces.push({type: 'scatter', mode: 'markers', x: [0.5], y: [16], xaxis: 'x' + m, yaxis: 'y' + m,
    marker: {opacity: 0, size: 1}, hoverinfo: 'skip'});
  layout['xaxis' + m] = {domain: xdom, anchor: 'y' + m, range: [0, 1], visible: false, fixedrange: true};
  layout['yaxis' + m] = {
    domain: [yd(PANEL_TOP + 5 * PANEL_H), yd(PANEL_TOP)], anchor: 'x' + m, range: [6, 26], fixedrange: true,
    tickmode: 'array', tickvals: freqTicks, ticktext: freqTickText,
    ticks: '', showgrid: false, zeroline: false, showline: false, ticklabelstandoff: 14,
    tickfont: {family: FONT, size: 23, color: '#111'}
  };
}

const titleFont = {family: FONT, size: 24, color: '#111'};
layout.annotations.push(
  {xref: 'paper', yref: 'paper', x: xd(23), y: yd(678), text: 'Frequency (Hz)', textangle: -90, showarrow: false, xanchor: 'center', yanchor: 'middle', font: titleFont},
  {xref: 'paper', yref: 'paper', x: xd(23), y: yd(1424), text: 'Flow (l/s)', textangle: -90, showarrow: false, xanchor: 'center', yanchor: 'middle', font: titleFont},
  {xref: 'paper', yref: 'paper', x: xd(452), y: yd(1541), text: 'Time (s)', showarrow: false, xanchor: 'center', yanchor: 'middle', font: titleFont},
  {xref: 'paper', yref: 'paper', x: xd(1283.5), y: yd(1541), text: 'Time (s)', showarrow: false, xanchor: 'center', yanchor: 'middle', font: titleFont},
  {xref: 'paper', yref: 'paper', x: xd(1701), y: yd(1214), text: 'Rrs (blue), Xrs (red)', textangle: -90, showarrow: false, xanchor: 'center', yanchor: 'middle', font: titleFont},
  {xref: 'paper', yref: 'paper', x: xd(1739), y: yd(1214), text: '(cmH<sub>2</sub>O·s/l)', textangle: -90, showarrow: false, xanchor: 'center', yanchor: 'middle', font: titleFont}
);

Plotly.newPlot('chart', traces, layout, {staticPlot: true, displayModeBar: false});
</script>
</body>
</html>
